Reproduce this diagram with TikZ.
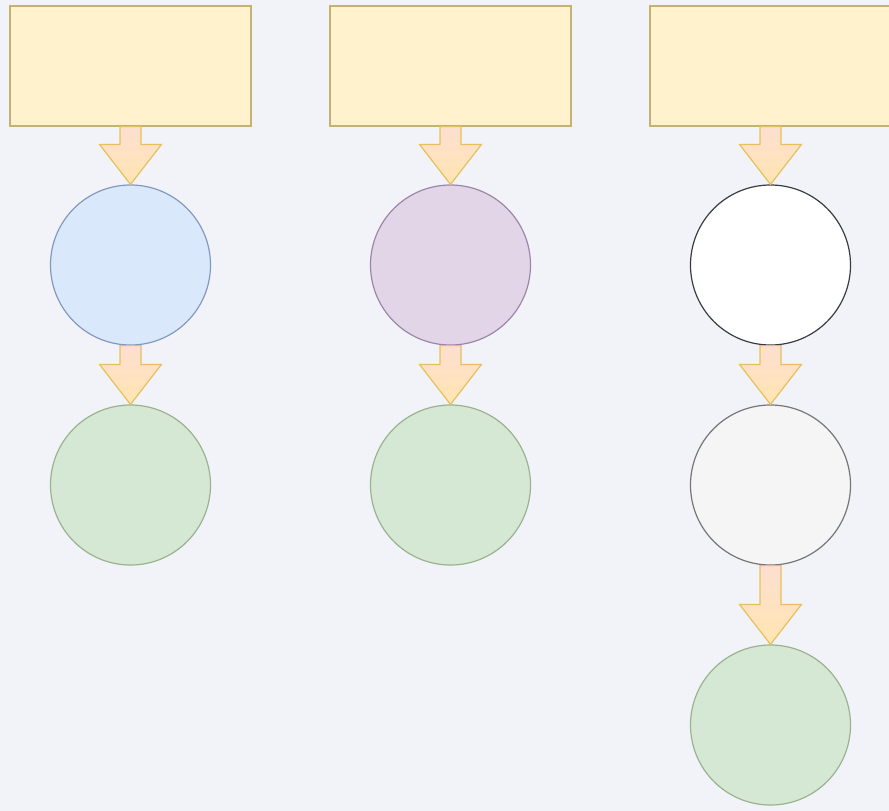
\documentclass[tikz,border=0pt]{standalone}
\usetikzlibrary{calc}
\definecolor{bg}{HTML}{F2F3F9}
\definecolor{boxfill}{HTML}{FFF2CC}
\definecolor{boxline}{HTML}{C4B272}
\definecolor{bluefill}{HTML}{DAE8FC}
\definecolor{blueline}{HTML}{8499BA}
\definecolor{purplefill}{HTML}{E1D5E7}
\definecolor{purpleline}{HTML}{9C86A8}
\definecolor{greenfill}{HTML}{D5E8D4}
\definecolor{greenline}{HTML}{9AB38E}
\definecolor{grayfill}{HTML}{F5F5F5}
\definecolor{grayline}{HTML}{767676}
\definecolor{darkline}{HTML}{3A3C40}
\definecolor{arrowtop}{HTML}{FDDFD0}
\definecolor{arrowbot}{HTML}{FFE5B0}
\definecolor{arrowline}{HTML}{E6C05E}
\tikzset{
  box/.style={draw=boxline, fill=boxfill, line width=1.2pt, minimum width=241pt, minimum height=120pt, inner sep=0pt},
  ball/.style={circle, line width=1.2pt, minimum size=160pt, inner sep=0pt},
  flex/.style={draw=arrowline, line width=1.2pt, line join=miter, top color=arrowtop, bottom color=arrowbot},
}
% block arrow from the bottom of one node to the top of the next
\newcommand{\blockarrow}[2]{%
  \path[flex] let \p1=(#1.south), \p2=(#2.north) in
    (\x1-10.5pt,\y1) -- (\x1-10.5pt,\y2+40pt) -- (\x1-31pt,\y2+40pt) -- (\x2,\y2)
    -- (\x1+31pt,\y2+40pt) -- (\x1+10.5pt,\y2+40pt) -- (\x1+10.5pt,\y1) -- cycle;}
\begin{document}
\begin{tikzpicture}[x=1pt,y=-1pt]
  \fill[bg] (0,0) rectangle (889,811);
  \useasboundingbox (0,0) rectangle (889,811);
  \clip (0,0) rectangle (889,811);
  % top boxes
  \node[box] (b1) at (130.5,66) {};
  \node[box] (b2) at (450.5,66) {};
  \node[box] (b3) at (770.5,66) {};
  % first column
  \node[ball, draw=blueline, fill=bluefill] (c11) at (130.5,265) {};
  \node[ball, draw=greenline, fill=greenfill] (c12) at (130.5,485) {};
  % second column
  \node[ball, draw=purpleline, fill=purplefill] (c21) at (450.5,265) {};
  \node[ball, draw=greenline, fill=greenfill] (c22) at (450.5,485) {};
  % third column
  \node[ball, draw=darkline, fill=white] (c31) at (770.5,265) {};
  \node[ball, draw=grayline, fill=grayfill] (c32) at (770.5,485) {};
  \node[ball, draw=greenline, fill=greenfill] (c33) at (770.5,725) {};
  % connectors
  \blockarrow{b1}{c11}
  \blockarrow{c11}{c12}
  \blockarrow{b2}{c21}
  \blockarrow{c21}{c22}
  \blockarrow{b3}{c31}
  \blockarrow{c31}{c32}
  \blockarrow{c32}{c33}
\end{tikzpicture}
\end{document}
